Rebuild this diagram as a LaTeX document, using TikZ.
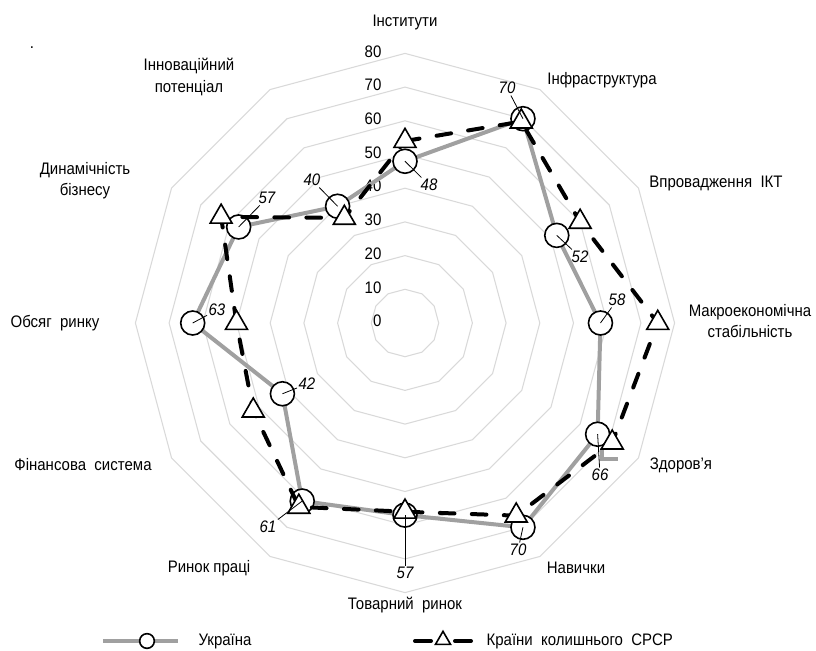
\documentclass[tikz,border=0pt]{standalone}
\usepackage{fontspec}
\setmainfont{Liberation Sans}[FakeStretch=0.9]
\usepackage{tikz}
\usetikzlibrary{shapes.geometric, positioning, calc}
\usepackage{xcolor}
\definecolor{ringgray}{HTML}{D9D9D9}
\definecolor{uagray}{HTML}{A0A0A0}

\begin{document}
\begin{tikzpicture}[
    x=0.75pt, y=0.75pt,
    ring/.style={draw=ringgray, line width=0.8pt},
    ualine/.style={draw=uagray, line width=3pt, line join=round},
    cisline/.style={draw=black, line width=3pt, line cap=round, dash pattern=on 11pt off 13pt},
    uamark/.style={draw, circle, fill=white, line width=1.2pt, minimum size=18pt, inner sep=0},
    cismark/.style={draw, regular polygon, regular polygon sides=3, fill=white, line width=1.2pt, minimum size=19pt, inner sep=0},
    ticklbl/.style={anchor=east, inner sep=1pt, font=\fontsize{12.5}{14}\selectfont},
    axislbl/.style={align=center, inner sep=1pt, font=\fontsize{12.5}{16}\selectfont},
    vallbl/.style={inner sep=1pt, font=\fontsize{12.5}{14}\selectfont\itshape},
    leader/.style={draw=black, line width=0.6pt}
]
\useasboundingbox (-405,-327) rectangle (411,323);

% rings of the scale
\foreach \v in {10,20,...,80}
  \draw[ring] (90:{\v*3.37}) \foreach \k in {1,...,11} { -- ({90-30*\k}:{\v*3.37}) } -- cycle;
\foreach \v in {0,10,...,80}
  \node[ticklbl] (t\v) at (-22,{\v*3.37+2}) {\v};

% Ukraine
\foreach \v [count=\i from 0] in {48,70,52,58,66,70,57,61,42,63,57,40}
  \coordinate (pu\i) at ({90-30*\i}:{\v*3.37});
\draw[ualine] (pu0) \foreach \i in {1,...,11} { -- (pu\i) } -- cycle;
\draw[ualine, line join=miter] ($(pu4)+(4,-14)$) -- ++(0,-11) -- ++(16,0);
\foreach \i in {0,...,11}
  \node[uamark] (u\i) at (pu\i) {};

% former USSR
\foreach \v [count=\i from 0] in {54,69,60,75,71,66,56,63,52,50,63,36}
  \coordinate (pc\i) at ({90-30*\i}:{\v*3.37});
\draw[cisline] (pc0) \foreach \i in {1,...,11} { -- (pc\i) } -- cycle;
\foreach \i in {0,...,11}
  \node[cismark] (c\i) at (pc\i) {};

% values of Ukraine
\foreach \i/\x/\y/\t in {0/24/138/48, 1/102/235/70, 2/175/66/52, 3/212/23/58,
    4/195/-152/66, 5/113/-227/70, 6/0/-250/57, 7/-137/-204/61,
    8/-98/-61/42, 9/-188/13/63, 10/-138/125/57, 11/-93/143/40}
{
  \node[vallbl] (v\i) at (\x,\y) {\t};
  \draw[leader] (u\i.center) -- (v\i);
}

\node[axislbl] (a0) at (0,301) {Інститути};
\node[axislbl] (a1) at (197,243) {Інфраструктура};
\node[axislbl] (a2) at (311,140) {Впровадження\enspace ІКТ};
\node[axislbl] (a3) at (345,2) {Макроекономічна\\стабільність};
\node[axislbl] (a4) at (276,-142) {Здоров'я};
\node[axislbl] (a5) at (171,-245) {Навички};
\node[axislbl] (a6) at (0,-282) {Товарний\enspace ринок};
\node[axislbl] (a7) at (-196,-245) {Ринок праці};
\node[axislbl] (a8) at (-322,-142) {Фінансова\enspace система};
\node[axislbl] (a9) at (-350,0) {Обсяг\enspace ринку};
\node[axislbl] (a10) at (-320,142) {Динамічність\\бізнесу};
\node[axislbl] (a11) at (-216,246) {Інноваційний\\потенціал};

\node[anchor=base, inner sep=0, font=\fontsize{12.5}{14}\selectfont] (dot) at (-373,274) {.};

% legend
\coordinate (lu1) at (-302,-318);
\coordinate (lu2) at (-227,-318);
\draw[ualine] (lu1) -- (lu2);
\node[uamark, minimum size=11pt] (lum) at (-258,-318) {};
\node[axislbl, anchor=west] (lut) at (-208,-318) {Україна};

\coordinate (lc1) at (10,-318);
\coordinate (lc2) at (66,-318);
\draw[cisline, dash pattern=on 12pt off 18pt] (lc1) -- (lc2);
\node[cismark, minimum size=13pt] (lcm) at (38,-317) {};
\node[axislbl, anchor=west] (lct) at (80,-318) {Країни\enspace колишнього\enspace СРСР};
\end{tikzpicture}
\end{document}
